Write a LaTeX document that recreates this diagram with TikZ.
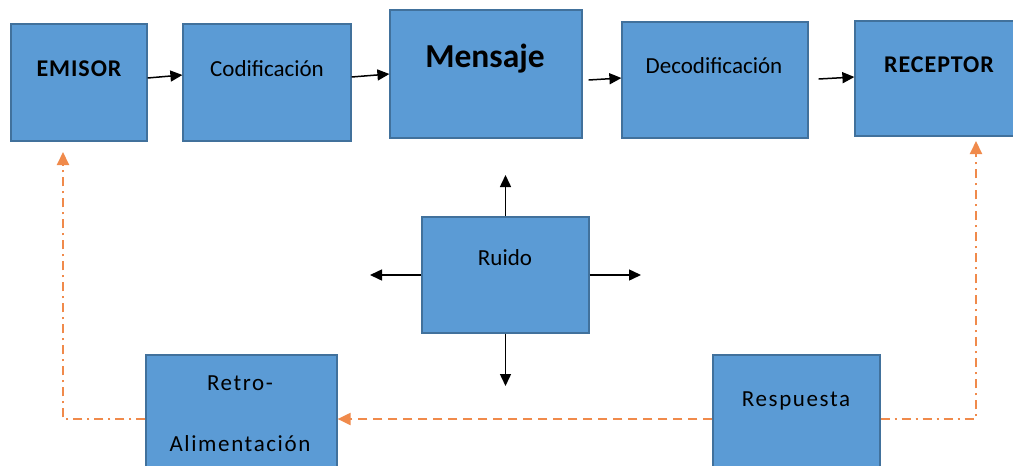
\documentclass[tikz,border=0pt]{standalone}
\usepackage{fontspec}
\setmainfont{Carlito}
\newfontfamily\widefont[LetterSpace=7]{Carlito}
\newfontfamily\semiwidefont[LetterSpace=4]{Carlito}
\usetikzlibrary{arrows.meta,calc}
\definecolor{boxfill}{HTML}{5B9BD5}
\definecolor{boxline}{HTML}{41719C}
\definecolor{fborange}{HTML}{F08A4B}
\tikzset{
  box/.style={draw=boxline, fill=boxfill, line width=1.2pt, rectangle, inner sep=0pt},
  txt/.style={anchor=base, inner sep=0pt, font=\fontsize{23}{28}\selectfont},
  wtxt/.style={anchor=base, inner sep=0pt, font=\widefont\fontsize{23}{28}\selectfont},
  btxt/.style={anchor=base, inner sep=0pt, font=\semiwidefont\fontsize{24}{28}\selectfont\bfseries},
  flow/.style={line width=1.5pt, -{Triangle[length=12pt,width=11pt]}},
  fbdash/.style={draw=fborange, line width=2pt, dash pattern=on 9pt off 6pt, -{Triangle[length=13pt,width=12pt]}, fborange},
  fbdashdot/.style={draw=fborange, line width=2pt, dash pattern=on 9pt off 5pt on 2pt off 5pt, -{Triangle[length=13pt,width=12pt]}, fborange}
}
\begin{document}
\begin{tikzpicture}[x=1pt,y=-1pt]
\clip (0,0) rectangle (1013,466);
\fill[white] (0,0) rectangle (1013,466);
% boxes
\node[box, minimum width=136pt, minimum height=117pt] (emisor) at (79,82.5) {};
\node[box, minimum width=168pt, minimum height=117pt] (codif) at (267,82.5) {};
\node[box, minimum width=192pt, minimum height=128pt] (mensaje) at (486,74) {};
\node[box, minimum width=186pt, minimum height=116pt] (decod) at (715,80) {};
\node[box, minimum width=176pt, minimum height=115pt] (receptor) at (943,78.5) {};
\node[box, minimum width=167pt, minimum height=116pt] (ruido) at (505.5,275) {};
\node[box, minimum width=191pt, minimum height=128pt] (retro) at (241.5,419) {};
\node[box, minimum width=167pt, minimum height=128pt] (respuesta) at (796.5,419) {};
% texts
\node[btxt] (temisor) at (79,76) {EMISOR};
\node[txt] (tcodif) at (267,76.5) {Codificación};
\node[anchor=base, inner sep=0pt, font=\fontsize{33.5}{38}\selectfont\bfseries] (tmensaje) at (485,67) {Mensaje};
\node[txt] (tdecod) at (714,73) {Decodificación};
\node[btxt] (treceptor) at (939,72) {RECEPTOR};
\node[txt] (truido) at (505,265) {Ruido};
\node[wtxt] (tretro) at (240,390) {Retro-};
\node[wtxt] (talim) at (240,451) {Alimentación};
\node[wtxt] (tresp) at (796,406) {Respuesta};
% top flow arrows
\draw[flow] ([yshift=4.5pt]emisor.east) -- ([yshift=7.5pt]codif.west);
\draw[flow] ([yshift=5.5pt]codif.east) -- ([yshift=0pt]mensaje.west);
\draw[flow] ([xshift=6pt,yshift=-6pt]mensaje.east) -- ([yshift=2pt]decod.west);
\draw[flow] ([xshift=10pt,yshift=1pt]decod.east) -- ([yshift=1.5pt]receptor.west);
% noise arrows
\coordinate (nup) at (505.5,175);
\coordinate (ndown) at (505.5,386);
\coordinate (nleft) at (370,275);
\coordinate (nright) at (641,275);
\draw[flow] (ruido.north) -- (nup);
\draw[flow] (ruido.south) -- (ndown);
\draw[flow] (ruido.west) -- (nleft);
\draw[flow] (ruido.east) -- (nright);
% feedback
\coordinate (fbL) at (63,152);
\coordinate (fbR) at (976,141);
\draw[fbdash] (respuesta.west) -- (retro.east);
\draw[fbdashdot] (retro.west) -| (fbL);
\draw[fbdashdot] (respuesta.east) -| (fbR);
\end{tikzpicture}
\end{document}
